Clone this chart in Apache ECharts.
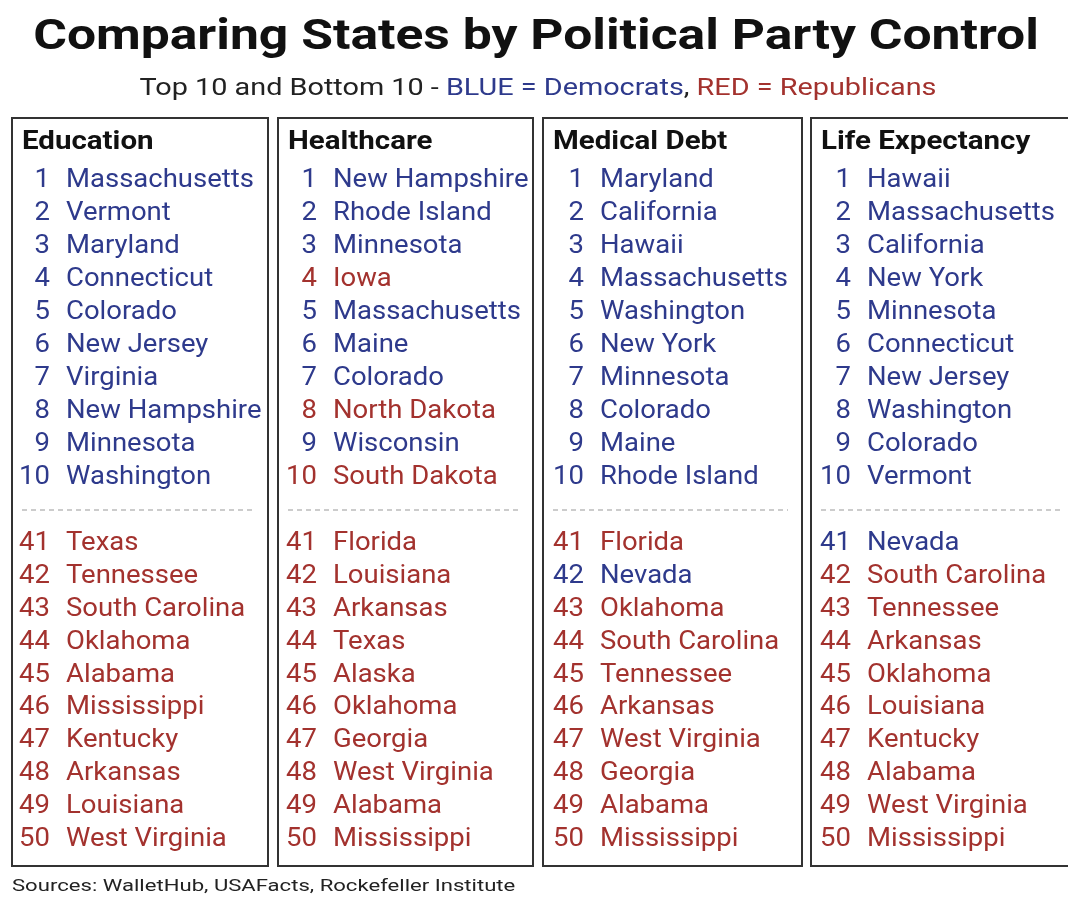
<!DOCTYPE html>
<html>
<head>
<meta charset="utf-8">
<script src="https://cdn.jsdelivr.net/npm/echarts@6/dist/echarts.min.js"></script>
<style>html,body{margin:0;padding:0;background:#fff}#main{width:1068px;height:908px}</style>
</head>
<body>
<div id="main"></div>
<script>
// 数据
var categories = ['Education', 'Healthcare', 'Medical Debt', 'Life Expectancy'];
var topRanks = [1, 2, 3, 4, 5, 6, 7, 8, 9, 10];
var bottomRanks = [41, 42, 43, 44, 45, 46, 47, 48, 49, 50];
var educationTop = ['Massachusetts', 'Vermont', 'Maryland', 'Connecticut', 'Colorado', 'New Jersey', 'Virginia', 'New Hampshire', 'Minnesota', 'Washington'];
var educationBottom = ['Texas', 'Tennessee', 'South Carolina', 'Oklahoma', 'Alabama', 'Mississippi', 'Kentucky', 'Arkansas', 'Louisiana', 'West Virginia'];
var healthcareTop = ['New Hampshire', 'Rhode Island', 'Minnesota', 'Iowa', 'Massachusetts', 'Maine', 'Colorado', 'North Dakota', 'Wisconsin', 'South Dakota'];
var healthcareBottom = ['Florida', 'Louisiana', 'Arkansas', 'Texas', 'Alaska', 'Oklahoma', 'Georgia', 'West Virginia', 'Alabama', 'Mississippi'];
var debtTop = ['Maryland', 'California', 'Hawaii', 'Massachusetts', 'Washington', 'New York', 'Minnesota', 'Colorado', 'Maine', 'Rhode Island'];
var debtBottom = ['Florida', 'Nevada', 'Oklahoma', 'South Carolina', 'Tennessee', 'Arkansas', 'West Virginia', 'Georgia', 'Alabama', 'Mississippi'];
var lifeTop = ['Hawaii', 'Massachusetts', 'California', 'New York', 'Minnesota', 'Connecticut', 'New Jersey', 'Washington', 'Colorado', 'Vermont'];
var lifeBottom = ['Nevada', 'South Carolina', 'Tennessee', 'Arkansas', 'Oklahoma', 'Louisiana', 'Kentucky', 'Alabama', 'West Virginia', 'Mississippi'];
var blueStates = ['Massachusetts', 'Vermont', 'Maryland', 'Connecticut', 'Colorado', 'New Jersey', 'Virginia', 'New Hampshire', 'Minnesota', 'Washington', 'Rhode Island', 'Maine', 'Wisconsin', 'California', 'Hawaii', 'New York', 'Nevada'];

var BLUE = '#2e3a8c', RED = '#a3322e';
var tops = [educationTop, healthcareTop, debtTop, lifeTop];
var bottoms = [educationBottom, healthcareBottom, debtBottom, lifeBottom];

// 组装数据: [列, 行位置, 名次, 州名]
var data = [];
tops.forEach(function (list, c) {
    list.forEach(function (s, i) { data.push([c, i, topRanks[i], s]); });
});
bottoms.forEach(function (list, c) {
    list.forEach(function (s, i) { data.push([c, i + 11, bottomRanks[i], s]); });
});

var chart = echarts.init(document.getElementById('main'));

// 每列边框与表头
var colLeft = [12, 278, 543, 811];
var colRight = [268, 533, 802, 1075];
var graphics = [];
categories.forEach(function (name, c) {
    graphics.push({
        type: 'rect', shape: { x: colLeft[c], y: 118, width: colRight[c] - colLeft[c], height: 748 },
        style: { fill: 'none', stroke: '#333', lineWidth: 2 }
    });
    graphics.push({
        type: 'text', x: colLeft[c] + 10, y: 143, scaleX: 1.18,
        style: { text: name, font: 'bold 25px Roboto', fill: '#111', verticalAlign: 'middle' }
    });
    graphics.push({
        type: 'line', shape: { x1: colLeft[c] + 10, y1: 510, x2: colRight[c] - 14, y2: 510 },
        style: { stroke: '#999', lineWidth: 1.2, lineDash: [5, 4] }
    });
});
graphics.push({
    type: 'text', x: 536, y: 38, scaleX: 1.2,
    style: { text: 'Comparing States by Political Party Control', font: 'bold 43px Roboto', fill: '#111', align: 'center', verticalAlign: 'middle' }
});
graphics.push({
    type: 'text', x: 538, y: 89, scaleX: 1.2,
    style: {
        text: '{k|Top 10 and Bottom 10 - }{b|BLUE = Democrats}{k|, }{r|RED = Republicans}',
        font: '24px Roboto', align: 'center', verticalAlign: 'middle',
        rich: {
            k: { fill: '#222', font: '24px Roboto' },
            b: { fill: BLUE, font: '24px Roboto' },
            r: { fill: RED, font: '24px Roboto' }
        }
    }
});
graphics.push({
    type: 'text', x: 12, y: 887, scaleX: 1.3,
    style: { text: 'Sources: WalletHub, USAFacts, Rockefeller Institute', font: '17px Roboto', fill: '#222', verticalAlign: 'middle' }
});

var option = {
    backgroundColor: '#fff',
    animation: false,
    grid: { left: 0, right: 0, top: 0, bottom: 0 },
    xAxis: { type: 'value', min: -66 / 267, max: 1002 / 267, show: false },
    yAxis: { type: 'value', inverse: true, min: -181 / 32.95, max: 727 / 32.95, show: false },
    graphic: graphics,
    series: [{
        type: 'custom',
        data: data,
        renderItem: function (params, api) {
            var p = api.coord([api.value(0), api.value(1)]);
            var state = data[params.dataIndex][3];
            var color = blueStates.indexOf(state) >= 0 ? BLUE : RED;
            return {
                type: 'group',
                children: [{
                    type: 'text', x: p[0] - 16, y: p[1], scaleX: 1.1,
                    style: { text: String(api.value(2)), font: '25px Roboto', fill: color, align: 'right', verticalAlign: 'middle' }
                }, {
                    type: 'text', x: p[0], y: p[1], scaleX: 1.1,
                    style: { text: state, font: '25px Roboto', fill: color, verticalAlign: 'middle' }
                }]
            };
        }
    }]
};
chart.setOption(option);
</script>
</body>
</html>
